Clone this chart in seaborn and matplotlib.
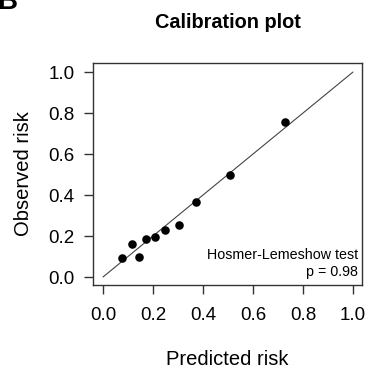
import matplotlib
matplotlib.use("Agg")
import matplotlib.pyplot as plt
import seaborn as sns
import pandas as pd

predicted = [0.077, 0.116, 0.145, 0.173, 0.209, 0.247, 0.304, 0.372, 0.508, 0.728]
observed = [0.093, 0.161, 0.098, 0.187, 0.197, 0.229, 0.255, 0.366, 0.498, 0.758]
ref_line = [0.0, 1.0]
ticks = [0.0, 0.2, 0.4, 0.6, 0.8, 1.0]
tick_labels = ["0.0", "0.2", "0.4", "0.6", "0.8", "1.0"]

sns.set_style("white")
plt.rcParams['font.family'] = ['Liberation Sans', 'DejaVu Sans']
plt.rcParams['text.color'] = 'black'
plt.rcParams['axes.labelcolor'] = 'black'

W, H = 367, 371
fig = plt.figure(figsize=(W / 100, H / 100), dpi=100)
ax = fig.add_axes([93 / W, (H - 285) / H, (362 - 93) / W, (285 - 63) / H])

df = pd.DataFrame({"predicted": predicted, "observed": observed})
sns.lineplot(x=ref_line, y=ref_line, ax=ax, color="#444444", lw=0.8)
sns.scatterplot(data=df, x="predicted", y="observed", ax=ax, color="black",
                s=38, edgecolor="black", linewidth=0, zorder=3)

ax.set_xlim(-0.04, 1.036)
ax.set_ylim(-0.039, 1.044)
ax.set_xticks(ticks)
ax.set_xticklabels(tick_labels)
ax.set_yticks(ticks)
ax.set_yticklabels(tick_labels)
ax.tick_params(axis="both", bottom=True, left=True, direction="out", length=6.5,
               width=1, color="#333333", labelsize=13.5, labelcolor="black")
ax.tick_params(axis="x", pad=9)
ax.tick_params(axis="y", pad=7)
for sp in ax.spines.values():
    sp.set_visible(True)
    sp.set_color("#333333")
    sp.set_linewidth(1)

ax.set_xlabel("Predicted risk", fontsize=14.5, labelpad=19)
ax.set_ylabel("Observed risk", fontsize=14.5, labelpad=11)
fig.text(227.5 / W, 1 - 22 / H, "Calibration plot", ha="center", va="center",
         fontsize=14.3, fontweight="bold")

ax.text(0.985, 0.135, "Hosmer-Lemeshow test", transform=ax.transAxes,
        ha="right", va="center", fontsize=10.3)
ax.text(0.985, 0.059, "p = 0.98", transform=ax.transAxes,
        ha="right", va="center", fontsize=10.3)

fig.text(-3 / W, 1 - 9 / H, "B", ha="left", va="baseline", fontsize=20,
         fontweight="bold")

fig.savefig("out.png", dpi=100)
